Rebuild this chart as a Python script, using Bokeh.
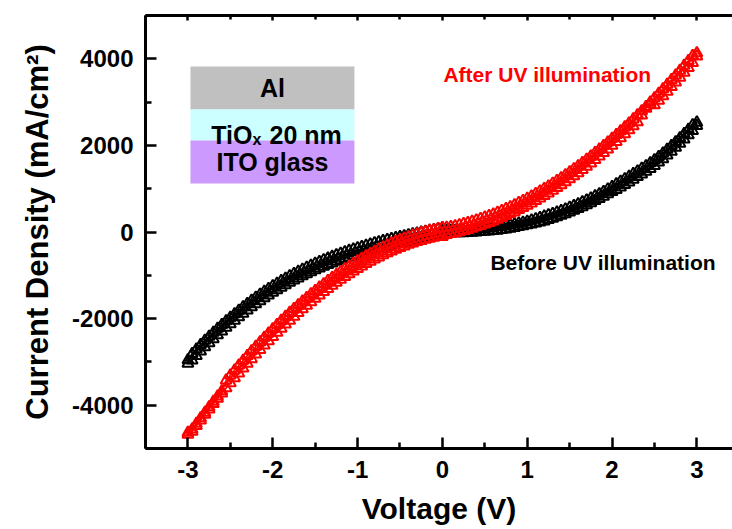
from bokeh.plotting import figure
from bokeh.models import LinearAxis, FixedTicker, Range1d
from bokeh.core.properties import value
from bokeh.embed import file_html
from bokeh.resources import INLINE

# ---------------- data ----------------
volt = [0.0, 0.05, 0.1, 0.15, 0.2, 0.25, 0.3, 0.35, 0.4, 0.45, 0.5,
        0.55, 0.6, 0.65, 0.7, 0.75, 0.8, 0.85, 0.9, 0.95, 1.0,
        1.05, 1.1, 1.15, 1.2, 1.25, 1.3, 1.35, 1.4, 1.45, 1.5,
        1.55, 1.6, 1.65, 1.7, 1.75, 1.8, 1.85, 1.9, 1.95, 2.0,
        2.05, 2.1, 2.15, 2.2, 2.25, 2.3, 2.35, 2.4, 2.45, 2.5,
        2.55, 2.6, 2.65, 2.7, 2.75, 2.8, 2.85, 2.9, 2.95, 3.0]

# Before UV illumination (black)
black_pos_fwd = [-30, -30, -29, -27, -25, -22, -17, -12, -6, 2, 11,
                 17, 25, 35, 48, 63, 80, 98, 117, 138, 160,
                 178, 199, 223, 249, 279, 311, 344, 379, 415, 453,
                 493, 535, 578, 623, 669, 718, 768, 820, 874, 930,
                 975, 1032, 1090, 1149, 1211, 1273, 1332, 1393, 1461, 1531,
                 1607, 1686, 1772, 1859, 1949, 2041, 2139, 2236, 2338, 2450]
black_pos_rev = [30, 30, 31, 33, 35, 38, 43, 48, 54, 62, 71,
                 86, 98, 111, 128, 143, 160, 178, 197, 218, 240,
                 271, 300, 329, 359, 389, 421, 454, 489, 525, 563,
                 603, 645, 688, 733, 779, 828, 878, 930, 984, 1040,
                 1105, 1162, 1220, 1279, 1341, 1403, 1462, 1523, 1591, 1661,
                 1737, 1816, 1902, 1989, 2079, 2171, 2269, 2366, 2468, 2530]
black_neg_fwd = [90, 70, 51, 31, 11, -9, -29, -50, -70, -92, -114,
                 -136, -159, -183, -207, -232, -258, -284, -312, -341, -370,
                 -401, -432, -465, -499, -534, -571, -609, -648, -689, -731,
                 -775, -821, -868, -917, -968, -1020, -1075, -1131, -1190, -1250,
                 -1313, -1377, -1444, -1513, -1585, -1659, -1735, -1814, -1895, -1979,
                 -2060, -2144, -2231, -2321, -2413, -2509, -2607, -2708, -2813, -2960]
black_neg_rev = [-60, -80, -99, -119, -139, -159, -179, -200, -220, -242, -264,
                 -286, -309, -333, -357, -382, -408, -434, -462, -491, -520,
                 -551, -582, -615, -649, -684, -721, -759, -798, -839, -881,
                 -925, -971, -1018, -1067, -1118, -1170, -1225, -1281, -1340, -1400,
                 -1463, -1527, -1594, -1663, -1735, -1809, -1885, -1964, -2045, -2129,
                 -2210, -2294, -2381, -2471, -2563, -2659, -2757, -2858, -2963, -3040]

# After UV illumination (red)
red_pos_fwd = [-110, -63, -43, -22, 1, 26, 52, 80, 111, 143, 177,
               212, 249, 289, 330, 372, 417, 463, 511, 561, 612,
               665, 720, 777, 835, 895, 957, 1020, 1085, 1152, 1221,
               1291, 1362, 1436, 1511, 1588, 1666, 1746, 1828, 1911, 1996,
               2083, 2171, 2260, 2352, 2445, 2539, 2695, 2853, 2952, 2933,
               3035, 3139, 3244, 3351, 3459, 3569, 3681, 3794, 3908, 4060]
red_pos_rev = [90, 100, 117, 138, 161, 186, 212, 240, 271, 303, 337,
               372, 409, 449, 490, 532, 577, 623, 671, 721, 772,
               825, 880, 937, 995, 1055, 1117, 1180, 1245, 1312, 1381,
               1451, 1522, 1596, 1671, 1748, 1826, 1906, 1988, 2071, 2156,
               2243, 2331, 2420, 2512, 2605, 2699, 2795, 2893, 2992, 3093,
               3195, 3299, 3404, 3511, 3619, 3729, 3841, 3954, 4068, 4130]
red_neg_fwd = [90, 72, 52, 30, 6, -21, -49, -80, -113, -148, -185,
               -224, -265, -309, -354, -402, -451, -503, -557, -612, -670,
               -730, -792, -855, -921, -989, -1059, -1130, -1204, -1280, -1358,
               -1437, -1519, -1602, -1688, -1775, -1864, -1955, -2048, -2143, -2240,
               -2339, -2439, -2542, -2646, -2752, -2860, -2970, -3081, -3195, -3310,
               -3427, -3676, -3796, -3919, -4043, -4169, -4297, -4426, -4557, -4630]
red_neg_rev = [-90, -108, -128, -150, -174, -201, -229, -260, -293, -328, -365,
               -404, -445, -489, -534, -582, -631, -683, -737, -792, -850,
               -910, -972, -1035, -1101, -1169, -1239, -1310, -1384, -1460, -1538,
               -1617, -1699, -1782, -1868, -1955, -2044, -2135, -2228, -2323, -2420,
               -2519, -2619, -2722, -2826, -2932, -3040, -3150, -3261, -3375, -3490,
               -3607, -3726, -3846, -3969, -4093, -4219, -4347, -4476, -4607, -4680]

x_ticks = [-3, -2, -1, 0, 1, 2, 3]
x_minor = [-3.5, -2.5, -1.5, -0.5, 0.5, 1.5, 2.5, 3.5]
y_ticks = [-4000, -2000, 0, 2000, 4000]
y_tick_labels = ["-4000", "-2000", "0", "2000", "4000"]
y_minor = [-5000, -3000, -1000, 1000, 3000, 5000]
x_tick_labels = ["-3", "-2", "-1", "0", "1", "2", "3"]

layers = ["Al", "ITO glass"]
layer_colors = ["#C0C0C0", "#CCFFFF", "#CC99FF"]

FONT = "Liberation Sans"


def loop(pos_fwd, pos_rev, neg_fwd, neg_rev):
    xs = volt + volt[::-1] + [-v for v in volt] + [-v for v in volt[::-1]]
    ys = pos_fwd + pos_rev[::-1] + neg_fwd + neg_rev[::-1]
    return xs, ys


p = figure(width=732, height=529,
           x_range=Range1d(-3.5, 3.42), y_range=Range1d(-5000, 5000),
           output_backend="svg", toolbar_location=None,
           x_axis_location=None, y_axis_location=None,
           min_border_left=145, min_border_right=0,
           min_border_top=15, min_border_bottom=81)
p.grid.grid_line_color = None
p.outline_line_color = None
p.background_fill_color = "white"
p.border_fill_color = "white"


def style_axis(ax, tick_in, minor_in, show_labels=True):
    ax.axis_line_width = 3
    ax.axis_line_color = "black"
    ax.major_tick_in = tick_in
    ax.major_tick_out = 0
    ax.minor_tick_in = minor_in
    ax.minor_tick_out = 0
    ax.major_tick_line_width = 2.5
    ax.minor_tick_line_width = 2.5
    ax.major_label_text_font = FONT
    ax.major_label_text_font_style = "bold"
    ax.major_label_text_color = "black"
    ax.axis_label_text_font = FONT
    ax.axis_label_text_font_style = "bold"
    ax.axis_label_text_color = "black"
    if show_labels:
        ax.major_label_text_font_size = "24px"
        ax.axis_label_text_font_size = "30px"
    else:
        ax.major_label_text_font_size = "0px"
        ax.major_label_standoff = 0


xaxis = LinearAxis(ticker=FixedTicker(ticks=x_ticks, minor_ticks=x_minor),
                   axis_label="Voltage (V)")
style_axis(xaxis, 11, 6)
xaxis.major_label_overrides = {t: l for t, l in zip(x_ticks, x_tick_labels)}
xaxis.major_label_standoff = 12
xaxis.axis_label_standoff = 11
p.add_layout(xaxis, "below")

yaxis = LinearAxis(ticker=FixedTicker(ticks=y_ticks, minor_ticks=y_minor),
                   axis_label="Current Density (mA/cm²)")
style_axis(yaxis, 11, 6)
yaxis.axis_label_text_font_size = "31px"
yaxis.major_label_overrides = {t: l for t, l in zip(y_ticks, y_tick_labels)}
yaxis.major_label_standoff = 12
yaxis.axis_label_standoff = 14
p.add_layout(yaxis, "left")

taxis = LinearAxis(ticker=FixedTicker(ticks=x_ticks, minor_ticks=x_minor))
style_axis(taxis, 5, 4, show_labels=False)
taxis.major_label_overrides = {t: "" for t in x_ticks}
p.add_layout(taxis, "above")

# device stack inset
p.quad(left=[-2.97] * 3, right=[-1.037] * 3,
       top=[3822, 2829, 2113], bottom=[2829, 2113, 1120],
       fill_color=layer_colors, line_color=None)
p.text(x=[-2.003, -2.003], y=[3326, 1617], text=layers,
       text_font=value(FONT), text_font_style="bold", text_font_size="25px",
       text_align="center", text_baseline="middle", text_color="black")
p.text(x=[-2.003], y=[2229], text=["TiO"], x_offset=-20,
       text_font=value(FONT), text_font_style="bold", text_font_size="25px",
       text_align="right", text_baseline="alphabetic", text_color="black")
p.text(x=[-2.003], y=[2229], text=["x"], x_offset=-20, y_offset=4,
       text_font=value(FONT), text_font_style="bold", text_font_size="16px",
       text_align="left", text_baseline="alphabetic", text_color="black")
p.text(x=[-2.003], y=[2229], text=["20 nm"], x_offset=-3,
       text_font=value(FONT), text_font_style="bold", text_font_size="25px",
       text_align="left", text_baseline="alphabetic", text_color="black")

# curves
bx, by = loop(black_pos_fwd, black_pos_rev, black_neg_fwd, black_neg_rev)
rx, ry = loop(red_pos_fwd, red_pos_rev, red_neg_fwd, red_neg_rev)

p.line(bx, by, line_color="black", line_width=1.5)
p.scatter(bx, by, marker="triangle", size=11, fill_color=None,
          line_color="black", line_width=2)
p.line(rx, ry, line_color="red", line_width=1.5)
p.scatter(rx, ry, marker="triangle", size=11, fill_color=None,
          line_color="red", line_width=2)

p.text(x=[0.012], y=[3637], text=["After UV illumination"],
       text_font=value(FONT), text_font_style="bold", text_font_size="21px",
       text_align="left", text_baseline="middle", text_color="red")
p.text(x=[0.566], y=[-704], text=["Before UV illumination"],
       text_font=value(FONT), text_font_style="bold", text_font_size="21px",
       text_align="left", text_baseline="middle", text_color="black")

open("out.html", "w").write(file_html(p, INLINE))
